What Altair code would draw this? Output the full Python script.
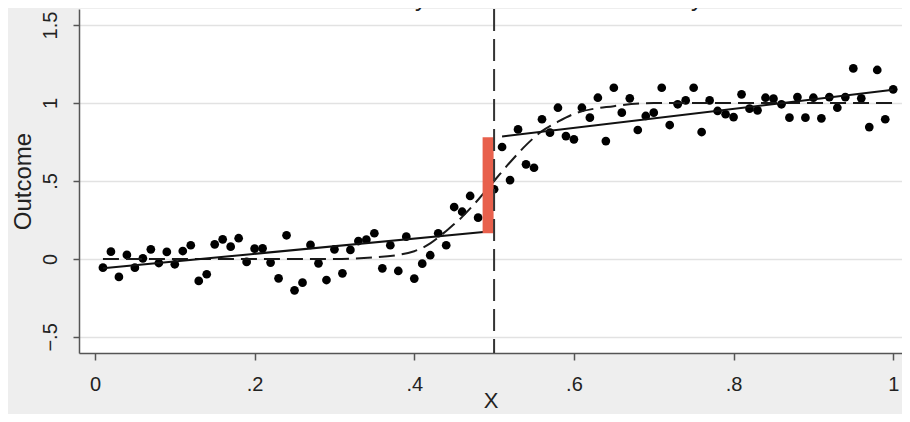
import altair as alt
import pandas as pd

# ---- data ----
point_x = [0.01, 0.02, 0.03, 0.04, 0.05, 0.06, 0.07, 0.08, 0.09, 0.10,
           0.11, 0.12, 0.13, 0.14, 0.15, 0.16, 0.17, 0.18, 0.19, 0.20,
           0.21, 0.22, 0.23, 0.24, 0.25, 0.26, 0.27, 0.28, 0.29, 0.30,
           0.31, 0.32, 0.33, 0.34, 0.35, 0.36, 0.37, 0.38, 0.39, 0.40,
           0.41, 0.42, 0.43, 0.44, 0.45, 0.46, 0.47, 0.48,
           0.50, 0.51, 0.52, 0.53, 0.54, 0.55, 0.56, 0.57, 0.58, 0.59,
           0.60, 0.61, 0.62, 0.63, 0.64, 0.65, 0.66, 0.67, 0.68, 0.69,
           0.70, 0.71, 0.72, 0.73, 0.74, 0.75, 0.76, 0.77, 0.78, 0.79,
           0.80, 0.81, 0.82, 0.83, 0.84, 0.85, 0.86, 0.87, 0.88, 0.89,
           0.90, 0.91, 0.92, 0.93, 0.94, 0.95, 0.96, 0.97, 0.98, 0.99,
           1.00]
point_y = [-0.056, 0.047, -0.115, 0.026, -0.056, 0.004, 0.062, -0.026, 0.045, -0.034,
           0.051, 0.088, -0.141, -0.098, 0.094, 0.126, 0.079, 0.133, -0.019, 0.066,
           0.068, -0.023, -0.124, 0.152, -0.201, -0.152, 0.090, -0.028, -0.135, 0.062,
           -0.092, 0.058, 0.115, 0.124, 0.165, -0.060, 0.088, -0.077, 0.143, -0.126,
           -0.030, 0.024, 0.165, 0.088, 0.333, 0.303, 0.404, 0.265,
           0.447, 0.718, 0.506, 0.831, 0.607, 0.585, 0.896, 0.810, 0.970, 0.788,
           0.767, 0.970, 0.906, 1.034, 0.756, 1.098, 0.938, 1.030, 0.827, 0.917,
           0.938, 1.098, 0.859, 0.992, 1.017, 1.098, 0.814, 1.017, 0.949, 0.928,
           0.910, 1.056, 0.964, 0.953, 1.034, 1.028, 0.992, 0.906, 1.038, 0.906,
           1.034, 0.902, 1.038, 0.970, 1.038, 1.222, 1.030, 0.846, 1.212, 0.896,
           1.088]

curve_x = [0.01, 0.10, 0.20, 0.30, 0.35, 0.40, 0.42, 0.44, 0.46, 0.48, 0.50,
           0.52, 0.54, 0.56, 0.58, 0.60, 0.65, 0.70, 0.80, 0.90, 1.00]
curve_y = [0.0, 0.0, 0.0, 0.0, 0.01, 0.05, 0.10, 0.18, 0.27, 0.38, 0.50,
           0.62, 0.73, 0.82, 0.88, 0.93, 0.98, 1.0, 1.0, 1.0, 1.0]

fit_side = ["left", "left", "right", "right"]
fit_x = [0.01, 0.49, 0.51, 1.00]
fit_y = [-0.06, 0.175, 0.785, 1.085]

cutoff = [0.5]
gap_x = [0.4925]
gap_low = [0.165]
gap_high = [0.78]

x_ticks = [0, 0.2, 0.4, 0.6, 0.8, 1.0]
y_ticks = [-0.5, 0, 0.5, 1.0, 1.5]
title_text = ["c. Nonlinearity mistaken for discontinuity"]

# ---- tables ----
pts = pd.DataFrame({"x": point_x, "y": point_y})
curve = pd.DataFrame({"x": curve_x, "y": curve_y})
fits = pd.DataFrame({"side": fit_side, "x": fit_x, "y": fit_y})
cut = pd.DataFrame({"x": cutoff})
gap = pd.DataFrame({"x": gap_x, "lo": gap_low, "hi": gap_high})
ttl = pd.DataFrame({"t": title_text})

FONT = "Liberation Sans"
label_expr = "replace(format(datum.value, ''), '0.', '.')"

xscale = alt.Scale(domain=[-0.02, 1.011], nice=False, zero=False)
yscale = alt.Scale(domain=[-0.603, 1.603], nice=False, zero=False)

xaxis = alt.Axis(values=x_ticks, labelExpr=label_expr, title="X", grid=False,
                 tickSize=7, labelPadding=14, labelFontSize=20, titleFontSize=22,
                 titleY=37, titleBaseline="top", titleFontWeight="normal")
yaxis = alt.Axis(values=y_ticks, labelExpr=label_expr, title="Outcome", grid=True,
                 tickSize=6, labelAngle=270, labelAlign="center", labelBaseline="bottom",
                 labelPadding=13, labelFontSize=20, titleFontSize=24,
                 titleX=-56, titleY=172, titleAngle=270, titleAlign="center",
                 titleBaseline="middle", titleFontWeight="normal")

points = alt.Chart(pts).mark_circle(size=76, color="black", opacity=1).encode(
    x=alt.X("x:Q", scale=xscale, axis=xaxis),
    y=alt.Y("y:Q", scale=yscale, axis=yaxis),
)

dashed = alt.Chart(curve).mark_line(color="#1a1a1a", strokeWidth=2,
                                     strokeDash=[16, 7], interpolate="monotone").encode(
    x="x:Q", y="y:Q")

fitlines = alt.Chart(fits).mark_line(color="#111111", strokeWidth=2).encode(
    x="x:Q", y="y:Q", detail="side:N")

gapbar = alt.Chart(gap).mark_rule(color="#e8604c", strokeWidth=11, strokeCap="butt").encode(
    x="x:Q", y="lo:Q", y2="hi:Q")

vline = alt.Chart(cut).mark_rule(color="#333333", strokeWidth=2,
                                 strokeDash=[22, 8]).encode(x="x:Q")

title = alt.Chart(ttl).mark_text(fontSize=24, font=FONT, color="#222222",
                                 baseline="alphabetic", align="center").encode(
    text="t:N", x=alt.value(410), y=alt.value(-3))

chart = alt.layer(points, dashed, fitlines, gapbar, vline, title).properties(
    width=823, height=344,
    background="#eeeeee",
    padding={"left": 71, "top": 1, "right": 0, "bottom": 61},
    autosize=alt.AutoSizeParams(type="none"),
).configure_view(
    fill="white", stroke=None
).configure_axis(
    labelFont=FONT, titleFont=FONT, labelColor="#222222", titleColor="#222222",
    domainColor="#555555", tickColor="#555555", domainWidth=1.5, tickWidth=1.5,
    gridColor="#e2e2e2", gridWidth=1.5,
)

chart.save("out.html", embed_options={"renderer": "svg", "actions": False})
